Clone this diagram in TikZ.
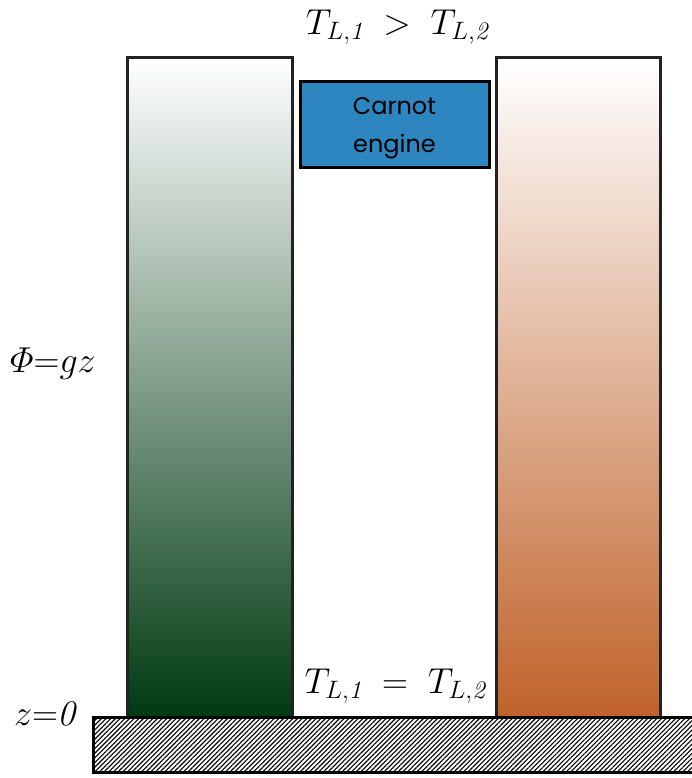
\RequirePackage{fix-cm}
\documentclass[tikz,border=0pt]{standalone}
\usepackage{fontspec}
\newfontfamily\enginefont{Poppins}
\usetikzlibrary{patterns.meta}
\definecolor{darkgreen}{RGB}{0,58,18}
\definecolor{rust}{RGB}{192,98,42}
\definecolor{carnotblue}{RGB}{46,134,193}
\definecolor{edgegray}{RGB}{34,34,34}
\tikzset{
  column/.style={draw=edgegray, line width=3pt, shade, top color=white, minimum width=#1, minimum height=659pt, inner sep=0pt},
  engine/.style={draw=black, line width=3pt, fill=carnotblue, minimum width=189pt, minimum height=86pt, inner sep=0pt},
  enginetext/.style={inner sep=0pt, align=center, font=\enginefont\fontsize{24}{38}\selectfont},
  bigmath/.style={font=\fontsize{36}{40}\selectfont, inner sep=0pt},
  sidemath/.style={font=\fontsize{36}{40}\selectfont, inner sep=0pt},
}
\begin{document}
\begin{tikzpicture}[x=1pt,y=-1pt]
\useasboundingbox (0,0) rectangle (692,778);
\node[column=165pt, bottom color=darkgreen] (left) at (209.5,387.5) {};
\node[column=164pt, bottom color=rust] (right) at (578,387.5) {};
\node[engine] (carnot) at (394.5,125) {};
\node[enginetext] (carnottext) at ([yshift=-3pt]carnot.center) {Carnot\\engine};
\node[draw=black, line width=3pt, pattern={Lines[angle=45,distance=3.3pt,line width=1.1pt]}, minimum width=620pt, minimum height=55pt, inner sep=0pt] (ground) at (403,744.5) {};
\node[bigmath] (top) at (397,27) {$T_{L,\mathit{1}}\;>\;T_{L,\mathit{2}}$};
\node[bigmath] (bottom) at (395,686) {$T_{L,\mathit{1}}\;=\;T_{L,\mathit{2}}$};
\node[sidemath] (phi) at (53,364) {$\mathnormal{\Phi}{=}gz$};
\node[sidemath] (zero) at (45,714) {$z{=}\mathit{0}$};
\end{tikzpicture}
\end{document}
